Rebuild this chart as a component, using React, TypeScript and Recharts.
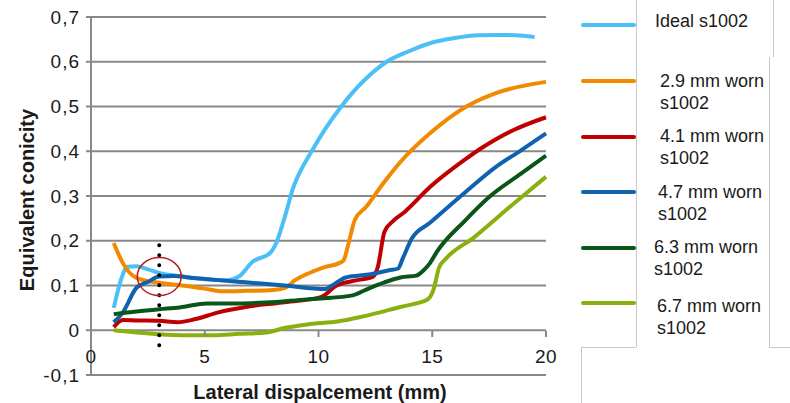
import { CartesianGrid, Line, LineChart, ReferenceDot, ReferenceLine, XAxis, YAxis } from 'recharts';

const xTicks = [0, 5, 10, 15, 20];
const yTicks = [-0.1, 0, 0.1, 0.2, 0.3, 0.4, 0.5, 0.6, 0.7];

const idealX = [1, 1.3, 1.6, 2, 2.5, 3, 4, 5, 6, 6.5, 7.1, 7.9, 8.1, 8.5, 8.9, 9.2, 9.7, 10.3, 11, 12, 13, 14, 15, 16, 17, 18, 19, 19.5];
const idealY = [0.05, 0.11, 0.142, 0.143, 0.136, 0.128, 0.12, 0.114, 0.112, 0.12, 0.153, 0.174, 0.19, 0.25, 0.32, 0.355, 0.4, 0.45, 0.5, 0.558, 0.6, 0.624, 0.643, 0.653, 0.659, 0.66, 0.658, 0.655];

const worn29X = [1, 1.4, 2, 3, 4, 5, 5.8, 6.8, 8, 8.5, 9, 9.6, 10.2, 10.9, 11.1, 11.3, 11.6, 12.1, 12.8, 13.6, 14.9, 16.5, 17.8, 20];
const worn29Y = [0.195, 0.15, 0.117, 0.106, 0.1, 0.093, 0.087, 0.088, 0.09, 0.094, 0.113, 0.128, 0.14, 0.15, 0.156, 0.19, 0.247, 0.276, 0.325, 0.376, 0.44, 0.5, 0.53, 0.555];

const worn41X = [1, 1.4, 2, 3, 3.8, 4.6, 5.6, 6.8, 8.4, 10.1, 10.8, 11.5, 12.4, 12.6, 12.9, 13.3, 13.8, 14.9, 16.4, 17.1, 17.8, 18.6, 20];
const worn41Y = [0.007, 0.023, 0.022, 0.021, 0.018, 0.025, 0.04, 0.052, 0.062, 0.074, 0.1, 0.11, 0.12, 0.14, 0.22, 0.245, 0.265, 0.32, 0.38, 0.405, 0.427, 0.448, 0.476];

const worn47X = [1, 1.4, 2, 2.5, 3, 3.6, 4.5, 5.6, 6.8, 8.5, 10.3, 10.6, 11.2, 12.3, 13.1, 13.5, 13.7, 14.1, 14.9, 16.4, 17.8, 18.9, 20];
const worn47Y = [0.018, 0.04, 0.095, 0.108, 0.12, 0.121, 0.117, 0.112, 0.107, 0.1, 0.092, 0.1, 0.118, 0.125, 0.134, 0.138, 0.16, 0.205, 0.24, 0.306, 0.365, 0.402, 0.44];

const worn63X = [1, 2, 3, 3.9, 5.1, 6.5, 7.7, 9.5, 10.1, 11.5, 12.1, 12.9, 13.6, 14.3, 14.6, 14.9, 15.2, 16.4, 17.5, 18.9, 20];
const worn63Y = [0.036, 0.042, 0.047, 0.051, 0.06, 0.06, 0.062, 0.069, 0.071, 0.078, 0.091, 0.107, 0.118, 0.122, 0.133, 0.15, 0.175, 0.243, 0.298, 0.35, 0.39];

const worn67X = [1, 2, 3, 4, 5.4, 6.5, 7.7, 8.5, 9.5, 10.9, 11.8, 12.7, 13.6, 14.3, 14.8, 15.05, 15.3, 15.6, 16.8, 18.6, 20];
const worn67Y = [0, -0.005, -0.009, -0.011, -0.011, -0.008, -0.005, 0.005, 0.013, 0.02, 0.029, 0.04, 0.052, 0.06, 0.069, 0.09, 0.14, 0.16, 0.206, 0.284, 0.343];

const toPoints = (xs: number[], ys: number[]) => xs.map((x, i) => ({ x, y: ys[i] }));

const series = [
  { name: 'Ideal s1002', color: '#4BC0F8', data: toPoints(idealX, idealY), lineY: 25, textTop: 10, textLeft: 655 },
  { name: '2.9 mm worn s1002', color: '#F28A00', data: toPoints(worn29X, worn29Y), lineY: 81, textTop: 70, textLeft: 660 },
  { name: '4.1 mm worn s1002', color: '#C00000', data: toPoints(worn41X, worn41Y), lineY: 137, textTop: 125, textLeft: 660 },
  { name: '4.7 mm worn s1002', color: '#0E62B0', data: toPoints(worn47X, worn47Y), lineY: 192, textTop: 181, textLeft: 658 },
  { name: '6.3 mm worn s1002', color: '#0A5518', data: toPoints(worn63X, worn63Y), lineY: 248, textTop: 236, textLeft: 654 },
  { name: '6.7 mm worn s1002', color: '#8AB00F', data: toPoints(worn67X, worn67Y), lineY: 303, textTop: 295, textLeft: 657 },
];

const font = '"Liberation Sans", Arial, sans-serif';
const grey = '#888';

function XTick({ x, y, payload }: any) {
  return (
    <g>
      <line x1={x} x2={x} y1={y - 52} y2={y - 46} stroke={grey} strokeWidth={2} />
      <text x={x} y={y - 27} dy="0.35em" textAnchor="middle" fontSize={19} letterSpacing={0.5} fill="#1a1a1a" fontFamily={font}>
        {payload.value}
      </text>
    </g>
  );
}

const fmt = (v: number) => (v === 0 ? '0' : v.toFixed(1).replace('.', ','));

const border = '1px solid #c8c8c8';

export default function App() {
  return (
    <div style={{ position: 'absolute', left: 0, top: 0, width: 790, height: 403, background: '#fff', fontFamily: font, overflow: 'hidden' }}>
      <LineChart width={560} height={403} margin={{ top: 17, right: 14, bottom: 8, left: 31 }}>
        <CartesianGrid vertical={false} stroke={grey} strokeWidth={2} />
        <XAxis
          type="number"
          dataKey="x"
          domain={[0, 20]}
          ticks={xTicks}
          interval={0}
          axisLine={false}
          tickLine={false}
          height={20}
          tick={<XTick />}
        />
        <YAxis
          type="number"
          domain={[-0.1, 0.7]}
          ticks={yTicks}
          interval={0}
          width={60}
          tickFormatter={fmt}
          axisLine={{ stroke: grey, strokeWidth: 2 }}
          tickLine={{ stroke: grey, strokeWidth: 2 }}
          tickSize={5}
          tickMargin={6}
          tick={{ fontSize: 19, fill: '#1a1a1a', fontFamily: font, letterSpacing: 1 }}
        />
        {series.map((s) => (
          <Line
            key={s.name}
            data={s.data}
            dataKey="y"
            name={s.name}
            type="monotone"
            stroke={s.color}
            strokeWidth={4}
            dot={false}
            isAnimationActive={false}
          />
        ))}
        <ReferenceLine
          segment={[{ x: 3, y: 0.19 }, { x: 3, y: -0.05 }]}
          stroke="#000"
          strokeWidth={4}
          strokeDasharray="0 10"
          strokeLinecap="round"
        />
        <ReferenceDot
          x={3}
          y={0.12}
          shape={(p: any) => <ellipse cx={p.cx} cy={p.cy} rx={22} ry={19} fill="none" stroke="#B81E1E" strokeWidth={1.5} />}
        />
      </LineChart>

      <div style={{ position: 'absolute', left: 27, top: 200, transform: 'translate(-50%, -50%) rotate(-90deg)', whiteSpace: 'nowrap', fontWeight: 'bold', fontSize: 20, color: '#1a1a1a' }}>
        Equivalent conicity
      </div>
      <div style={{ position: 'absolute', left: 320, top: 392, transform: 'translate(-50%, -50%)', whiteSpace: 'nowrap', fontWeight: 'bold', fontSize: 20, color: '#1a1a1a' }}>
        Lateral dispalcement (mm)
      </div>

      <div style={{ position: 'absolute', left: 636, top: 0, height: 347, borderLeft: border }} />
      <div style={{ position: 'absolute', left: 773, top: 0, height: 57, borderLeft: border }} />
      <div style={{ position: 'absolute', left: 769, top: 57, height: 290, borderLeft: border }} />
      <div style={{ position: 'absolute', left: 581, top: 347, width: 55, borderTop: border }} />
      <div style={{ position: 'absolute', left: 769, top: 347, width: 21, borderTop: border }} />
      <div style={{ position: 'absolute', left: 581, top: 347, height: 56, borderLeft: border }} />

      {series.map((s) => (
        <div key={s.name}>
          <div style={{ position: 'absolute', left: 581, top: s.lineY - 2, width: 55, height: 4, borderRadius: 2, background: s.color }} />
          <div style={{ position: 'absolute', left: s.textLeft, top: s.textTop, width: 112, fontSize: 18, lineHeight: '22px', color: '#1a1a1a' }}>
            {s.name}
          </div>
        </div>
      ))}
    </div>
  );
}
